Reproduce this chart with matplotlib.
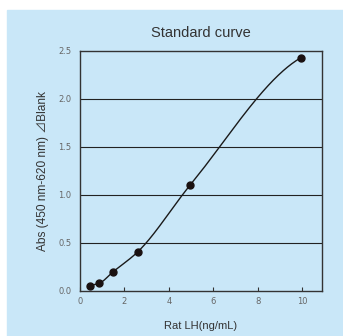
import numpy as np
import matplotlib
matplotlib.use("Agg")
import matplotlib.pyplot as plt
from matplotlib.patches import Rectangle

conc = [0.43, 0.86, 1.49, 2.61, 4.95, 9.95]
absorb = [0.057, 0.08, 0.20, 0.41, 1.10, 2.43]
xticks = [0, 2, 4, 6, 8, 10]
yticks = [0.0, 0.5, 1.0, 1.5, 2.0, 2.5]
ytick_labels = ["0.0", "0.5", "1.0", "1.5", "2.0", "2.5"]
grid_levels = [0.5, 1.0, 1.5, 2.0]

def pchip(x, y, xs):
    x = np.asarray(x, float); y = np.asarray(y, float)
    h = np.diff(x); d = np.diff(y) / h
    n = len(x); m = np.zeros(n)
    for k in range(1, n - 1):
        if d[k - 1] * d[k] > 0:
            w1 = 2 * h[k] + h[k - 1]; w2 = h[k] + 2 * h[k - 1]
            m[k] = (w1 + w2) / (w1 / d[k - 1] + w2 / d[k])
    m[0] = d[0]; m[-1] = d[-1] * 0.5
    out = np.empty_like(xs)
    for i, xv in enumerate(xs):
        k = min(np.searchsorted(x, xv) - 1, n - 2); k = max(k, 0)
        t = (xv - x[k]) / h[k]
        h00 = 2*t**3 - 3*t**2 + 1; h10 = t**3 - 2*t**2 + t
        h01 = -2*t**3 + 3*t**2; h11 = t**3 - t**2
        out[i] = h00*y[k] + h10*h[k]*m[k] + h01*y[k+1] + h11*h[k]*m[k+1]
    return out

bg = "#c9e7f8"
fig = plt.figure(figsize=(3.43, 3.36), dpi=100)
fig.patches.append(Rectangle((7/343, 0), 1 - 7/343, 1 - 10/336,
                             transform=fig.transFigure, color=bg, zorder=-10))
ax = fig.add_axes([80/343, 1 - 291/336, 242/343, 240/336])
ax.set_facecolor(bg)

xs = np.linspace(conc[0], conc[-1], 300)
ax.plot(xs, pchip(conc, absorb, xs), color="#1a1a1a", lw=1.0, zorder=3)
ax.plot(conc, absorb, "o", color="#1a1111", ms=5, zorder=4)
for g in grid_levels:
    ax.axhline(g, color="#222222", lw=0.8, zorder=2)

ax.set_xlim(0, 10.9)
ax.set_ylim(0, 2.5)
ax.set_xticks(xticks)
ax.set_yticks(yticks)
ax.set_yticklabels(ytick_labels)
ax.tick_params(axis="x", direction="in", length=3, width=0.8, color="#333333",
               labelsize=6, labelcolor="#666666", pad=4)
ax.tick_params(axis="y", length=0, labelsize=6, labelcolor="#666666", pad=6)
for s in ax.spines.values():
    s.set_color("#333333"); s.set_linewidth(1.0)

ax.set_title("Standard curve", fontsize=10.5, color="#333333", pad=10,
             family=["Liberation Sans", "DejaVu Sans"])
ax.set_xlabel("Rat LH(ng/mL)", fontsize=8, color="#333333", labelpad=11,
              family=["Liberation Sans", "DejaVu Sans"])
ax.set_ylabel("Abs (450 nm-620 nm) ⊿Blank", fontsize=8.6, color="#333333", labelpad=7,
              family=["Liberation Sans", "Noto Sans CJK JP", "DejaVu Sans"])

fig.savefig("out.png", dpi=100)
